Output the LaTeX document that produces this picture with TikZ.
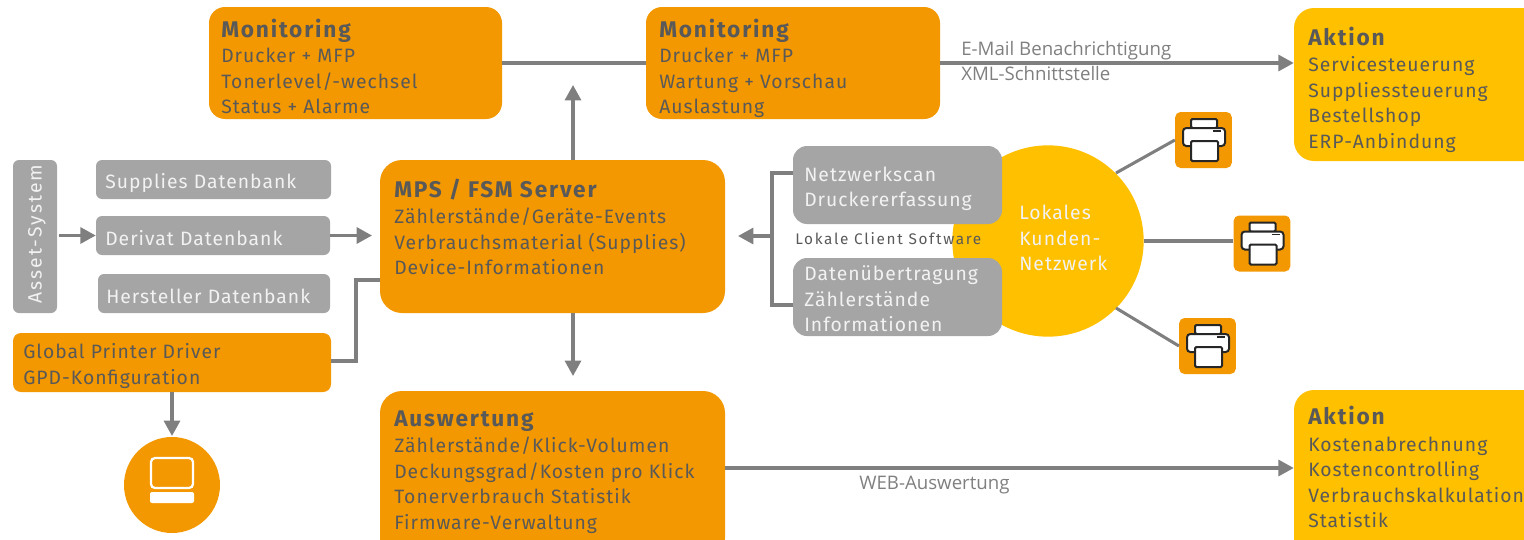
\documentclass[tikz,border=0pt]{standalone}
\usepackage{fontspec}
\setmainfont{Fira Sans}
\newfontfamily\bodyfont[LetterSpace=5.2]{Fira Sans}
\newfontfamily\titlefont[LetterSpace=8]{Fira Sans}
\newfontfamily\widefont[LetterSpace=11]{Fira Sans}
\newfontfamily\labelfont{Open Sans}
\usetikzlibrary{arrows.meta,calc}
\definecolor{orangeA}{HTML}{F39800}
\definecolor{yellowA}{HTML}{FFC000}
\definecolor{grayBox}{HTML}{A5A5A5}
\definecolor{grayLine}{HTML}{7F7F7F}
\definecolor{darkText}{HTML}{595959}
\definecolor{lightText}{HTML}{F2F2F2}
\newcounter{tlc}
\newcommand{\txtline}[4][bodyline]{\stepcounter{tlc}\node[#1] (t\thetlc) at (#2,#3) {#4};}
\newcommand{\boxat}[7]{\node[#2,rounded corners=#7*0.75pt,minimum width=(#5-#3)*0.75pt,minimum height=(#6-#4)*0.75pt] (#1) at ({(#3+#5)/2},{(#4+#6)/2}) {};}
\tikzset{
  x=0.75pt,y=-0.75pt,
  orangebox/.style={fill=orangeA,draw=none,inner sep=0pt},
  yellowbox/.style={fill=yellowA,draw=none,inner sep=0pt},
  graybox/.style={fill=grayBox,draw=none,inner sep=0pt},
  bodyline/.style={anchor=base west,inner sep=0pt,xshift=-0.75pt,text=darkText,font=\bodyfont\fontsize{14.5}{17}\selectfont},
  titleline/.style={anchor=base west,inner sep=0pt,xshift=-0.75pt,text=darkText,font=\titlefont\bfseries\fontsize{17}{20}\selectfont},
  whiteline/.style={anchor=base west,inner sep=0pt,xshift=-0.75pt,text=lightText,font=\bodyfont\fontsize{14.5}{17}\selectfont},
  rotline/.style={anchor=center,inner sep=0pt,rotate=90,text=lightText,font=\widefont\fontsize{14.5}{17}\selectfont},
  smallline/.style={anchor=base west,inner sep=0pt,text=darkText,font=\widefont\fontsize{11.5}{14}\selectfont},
  greylabel/.style={anchor=base west,inner sep=0pt,text=grayLine,font=\labelfont\fontsize{14}{17}\selectfont},
  conn/.style={draw=grayLine,line width=2.3pt},
  arrowconn/.style={conn,-{Triangle[length=11.5pt,width=12pt]}},
  iconbox/.style={fill=orangeA,draw=none,inner sep=0pt,rounded corners=4pt,minimum width=42.5pt,minimum height=42pt},
  pics/printericon/.style={code={
    \draw[fill=white,draw=black!85,line width=1.5pt,rounded corners=1pt] (-12.5,-21) rectangle (13.5,-12);
    \draw[fill=white,draw=black!85,line width=1.5pt,rounded corners=2.5pt] (-20.5,-12) rectangle (21.5,6);
    \draw[fill=white,draw=black!85,line width=1.5pt,rounded corners=1pt] (-12.5,1) rectangle (14.5,21);
    \draw[draw=black!85,line width=1.1pt] (9.5,-9) -- (17.5,-9);
  }},
}
\begin{document}
\begin{tikzpicture}
\useasboundingbox (0,0) rectangle (1524,539);
\clip (0,0) rectangle (1524,539);
% boxes
\boxat{mona}{orangebox}{209}{7}{502}{119}{16}
\boxat{monb}{orangebox}{646}{7}{940}{119}{16}
\boxat{akta}{yellowbox}{1294}{8}{1570}{161}{20}
\boxat{aktb}{yellowbox}{1294}{390}{1570}{560}{20}
\boxat{mps}{orangebox}{380}{160}{725}{313}{22}
\boxat{ausw}{orangebox}{380}{391}{725}{560}{22}
\boxat{asset}{graybox}{13}{160}{57}{313}{6}
\boxat{supp}{graybox}{96}{160}{331}{199}{6}
\boxat{deriv}{graybox}{96}{216}{330}{255}{6}
\boxat{herst}{graybox}{98}{274}{330}{313}{6}
\boxat{gpd}{orangebox}{13}{333}{331}{392}{8}
\node[circle,fill=orangeA,inner sep=0pt,minimum size=72pt] (pc) at (172,485) {};
\node[circle,fill=yellowA,inner sep=0pt,minimum size=143.5pt] (netz) at (1048,241) {};
\boxat{scan}{graybox}{793}{146}{1002}{224}{14}
\boxat{daten}{graybox}{793}{258}{1002}{336}{14}
\node[iconbox] (pra) at (1203.5,140) {};
\node[iconbox] (prb) at (1262,243.5) {};
\node[iconbox] (prc) at (1207.5,346) {};
\pic at (pra) {printericon};
\pic at (prb) {printericon};
\pic at (prc) {printericon};
% computer icon
\draw[white,line width=1.7pt,rounded corners=3pt] (151,458) rectangle (193,488);
\fill[white,rounded corners=1.5pt] (150,492) rectangle (194,503);
% connectors
\coordinate (upend) at (573,85);
\coordinate (upstart) at (573,160);
\coordinate (downend) at (573,376);
\coordinate (downstart) at (573,313);
\coordinate (derivend) at (372,235.5);
\coordinate (assetstart) at (59,235.5);
\coordinate (gpdout) at (331,361);
\coordinate (mpsin) at (380,280);
\coordinate (scanout) at (793,173);
\coordinate (datenout) at (793,305);
\coordinate (brk) at (772,236);
\coordinate (brkend) at (738,236);
\coordinate (pcstart) at (172,392);
\coordinate (pctop) at (172,436);
\coordinate (nettop) at (1116,173);
\coordinate (netbot) at (1116,308);
\draw[conn] (mona.east) -- (monb.west);
\draw[arrowconn] (upstart) -- (upend);
\draw[arrowconn] (monb.east) -- (monb.east -| akta.west);
\draw[arrowconn] (downstart) -- (downend);
\draw[arrowconn] (ausw.east |- 0,468) -- (aktb.west |- 0,468);
\draw[arrowconn] (deriv.east) -- (derivend);
\draw[arrowconn] (assetstart) -- (deriv.west);
\draw[conn,line join=miter] (gpdout) -- (356,361) -- (356,280) -- (mpsin);
\draw[arrowconn] (pcstart) -- (pctop);
\draw[conn] (scanout) -- (772,173) -- (772,305) -- (datenout);
\draw[arrowconn] (brk) -- (brkend);
\draw[conn] (nettop) -- (pra.west);
\draw[conn] (netz.east) -- (netz.east -| prb.west);
\draw[conn] (netbot) -- (prc.west);
% texts
\txtline[titleline]{222}{37}{Monitoring}
\txtline{222}{62}{Drucker + MFP}
\txtline{222}{88}{Tonerlevel/-wechsel}
\txtline{222}{113}{Status + Alarme}
\txtline[titleline]{660}{37}{Monitoring}
\txtline{660}{62}{Drucker + MFP}
\txtline{660}{88}{Wartung + Vorschau}
\txtline{660}{113}{Auslastung}
\txtline[titleline]{1309}{45}{Aktion}
\txtline{1309}{71}{Servicesteuerung}
\txtline{1309}{97}{Suppliessteuerung}
\txtline{1309}{122}{Bestellshop}
\txtline{1309}{148}{ERP-Anbindung}
\txtline[titleline]{1309}{424}{Aktion}
\txtline{1309}{451}{Kostenabrechnung}
\txtline{1309}{476}{Kostencontrolling}
\txtline{1309}{502}{Verbrauchskalkulation}
\txtline{1309}{527}{Statistik}
\txtline[titleline]{395}{197}{MPS / FSM Server}
\txtline{395}{223}{Zählerstände/Geräte-Events}
\txtline{395}{249}{Verbrauchsmaterial (Supplies)}
\txtline{395}{274}{Device-Informationen}
\txtline[titleline]{395}{426}{Auswertung}
\txtline{395}{452}{Zählerstände/Klick-Volumen}
\txtline{395}{478}{Deckungsgrad/Kosten pro Klick}
\txtline{395}{503}{Tonerverbrauch Statistik}
\txtline{395}{529}{Firmware-Verwaltung}
\txtline[whiteline]{106}{188}{Supplies Datenbank}
\txtline[whiteline]{106}{245}{Derivat Datenbank}
\txtline[whiteline]{107}{303}{Hersteller Datenbank}
\txtline[rotline]{37}{234}{Asset-System}
\txtline{24}{358}{Global Printer Driver}
\txtline{24}{384}{GPD-Konfiguration}
\txtline[whiteline]{805}{181}{Netzwerkscan}
\txtline[whiteline]{805}{206}{Druckererfassung}
\txtline[whiteline]{805}{280}{Datenübertragung}
\txtline[whiteline]{805}{306}{Zählerstände}
\txtline[whiteline]{805}{331}{Informationen}
\txtline[smallline]{795}{244}{Lokale Client Software}
\txtline[whiteline]{1020}{219}{Lokales}
\txtline[whiteline]{1020}{245}{Kunden-}
\txtline[whiteline]{1020}{270}{Netzwerk}
\txtline[greylabel]{961}{55}{E-Mail Benachrichtigung}
\txtline[greylabel]{961}{80}{XML-Schnittstelle}
\txtline[greylabel]{859}{489}{WEB-Auswertung}
\end{tikzpicture}
\end{document}
